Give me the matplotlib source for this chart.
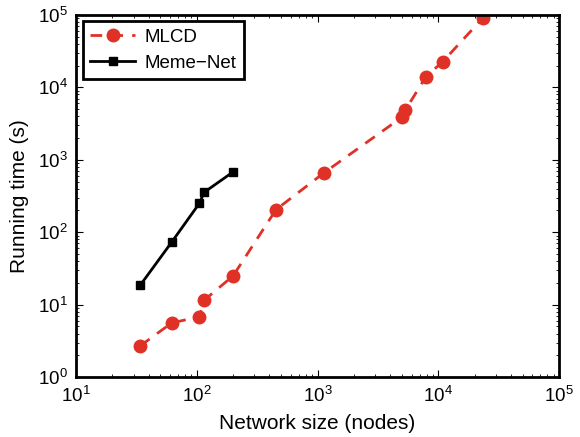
import matplotlib.pyplot as plt
import numpy as np

plt.rcParams['font.family'] = ['Liberation Sans', 'DejaVu Sans']

# running time vs network size
mlcd_nodes = [34, 62, 105, 115, 200, 453, 1130, 4980, 5310, 7870, 10900, 23300]
mlcd_time = [2.7, 5.6, 6.8, 11.5, 25, 205, 660, 3850, 4800, 13900, 22700, 90000]
memenet_nodes = [34, 62, 105, 115, 200]
memenet_time = [18.5, 73, 250, 355, 680]

fig = plt.figure(figsize=(5.8, 4.37), dpi=100)
ax = fig.add_axes([0.131, 0.137, 0.833, 0.829])

ax.loglog(mlcd_nodes, mlcd_time, '--o', color='#e03127', lw=2,
          markersize=9, dashes=(4.2, 3.3), label='MLCD')
ax.loglog(memenet_nodes, memenet_time, '-s', color='black', lw=2,
          markersize=6, label='Meme\u2212Net')

ax.set_xlim(10, 1e5)
ax.set_ylim(1, 1e5)
ax.set_xlabel('Network size (nodes)', fontsize=15, labelpad=6)
ax.set_ylabel('Running time (s)', fontsize=15, labelpad=6)

ax.tick_params(which='both', direction='in', top=True, right=True,
               labelsize=13.5)
ax.tick_params(axis='x', which='major', pad=6)
ax.tick_params(axis='y', which='major', pad=6)
ax.tick_params(which='major', length=5)
ax.tick_params(which='minor', length=2.5)
for s in ax.spines.values():
    s.set_linewidth(2)

leg = ax.legend(loc='upper left', fontsize=13.5, fancybox=False,
                edgecolor='black', framealpha=1, handlelength=2.4,
                borderaxespad=0.35, borderpad=0.4, labelspacing=0.45,
                handletextpad=0.5)
leg.get_frame().set_linewidth(2)

plt.savefig('out.png', dpi=100)
